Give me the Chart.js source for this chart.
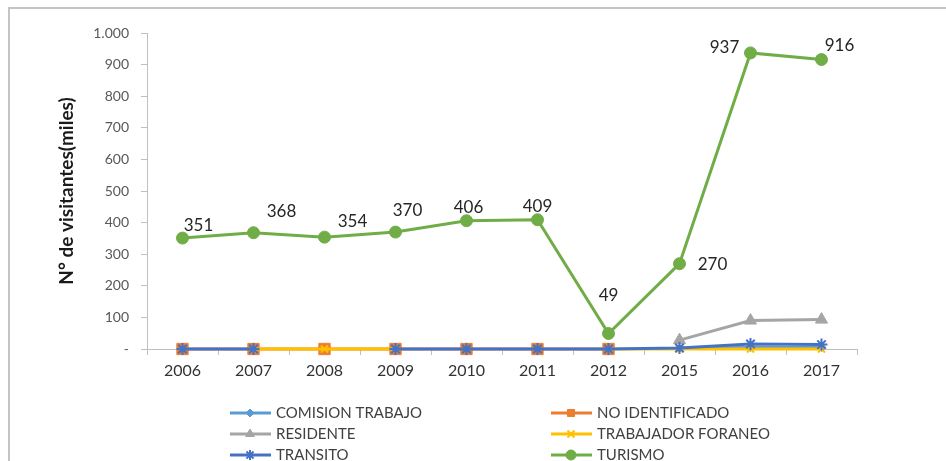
<!DOCTYPE html>
<html>
<head>
<meta charset="utf-8">
<script src="https://cdn.jsdelivr.net/npm/chart.js@4.4.1/dist/chart.umd.min.js"></script>
<style>
    html, body { margin: 0; padding: 0; background: #fff; }
    #wrap { position: relative; width: 946px; height: 461px; overflow: hidden; }
    #frame { position: absolute; left: 8px; top: 7px; right: -10px; bottom: -10px; border-left: 2px solid #c4c4c4; border-top: 2px solid #c4c4c4; }
    canvas { position: absolute; left: 0; top: 0; }
</style>
</head>
<body>
<div id="wrap">
    <div id="frame"></div>
    <canvas id="visitChart" width="946" height="461"></canvas>
</div>
<script>
// Daten
const years = ['2006', '2007', '2008', '2009', '2010', '2011', '2012', '2015', '2016', '2017'];
const comisionTrabajo   = [null, null, null, null, null, null, null, 2, 5, 5];
const noIdentificado    = [0, 0, 0, 0, 0, 0, 0, null, null, null];
const residente         = [null, null, null, null, null, null, null, 28, 90, 93];
const trabajadorForaneo = [null, 0, 0, 0, null, null, 0, 0, 0, 0];
const transito          = [0, 0, null, 0, 0, 0, 0, 3, 16, 14];
const turismo           = [351, 368, 354, 370, 406, 409, 49, 270, 937, 916];
const yTickLabels = ['-', '100', '200', '300', '400', '500', '600', '700', '800', '900', '1.000'];

const FONT = 'Lato, "Open Sans", "Liberation Sans", sans-serif';

function serie(label, data, color, style, radius, width, order) {
    return {
        label: label,
        data: data,
        borderColor: color,
        backgroundColor: color,
        borderWidth: width,
        pointStyle: style,
        pointRadius: radius,
        pointBorderWidth: style === 'star' || style === 'crossRot' ? 2 : 1,
        pointBorderColor: color,
        pointBackgroundColor: color,
        tension: 0,
        clip: false,
        order: order
    };
}

const datasets = [
    serie('COMISION TRABAJO', comisionTrabajo, '#5b9bd5', 'rectRot', 4, 3, 5),
    serie('NO IDENTIFICADO', noIdentificado, '#ed7d31', 'rect', 8, 3, 4),
    serie('RESIDENTE', residente, '#a5a5a5', 'triangle', 7, 3, 3),
    serie('TRABAJADOR FORANEO', trabajadorForaneo, '#ffc000', 'crossRot', 5, 3, 2),
    serie('TRANSITO', transito, '#4472c4', 'star', 6, 3, 1),
    serie('TURISMO', turismo, '#70ad47', 'circle', 6, 3, 0)
];

// Beschriftung der Turismo-Punkte (Versatz zum Punkt)
const labelOffsets = [[16, -13], [28, -21], [28, -16], [12, -22], [2, -13], [0, -13], [0, -38], [33, 1], [-26, -5], [18, -14]];

const turismoLabels = {
    id: 'turismoLabels',
    afterDatasetsDraw(chart) {
        const meta = chart.getDatasetMeta(5);
        const ctx = chart.ctx;
        ctx.save();
        ctx.font = '17px ' + FONT;
        ctx.fillStyle = '#262626';
        ctx.textAlign = 'center';
        ctx.textBaseline = 'middle';
        meta.data.forEach(function(pt, i) {
            ctx.fillText(String(turismo[i]), pt.x + labelOffsets[i][0], pt.y + labelOffsets[i][1]);
        });
        ctx.restore();
    }
};

// Legende in zwei Spalten
const customLegend = {
    id: 'customLegend',
    afterDraw(chart) {
        const ctx = chart.ctx;
        const cols = [230, 551];
        const rows = [413, 434, 455];
        ctx.save();
        chart.data.datasets.forEach(function(ds, i) {
            const x = cols[i % 2];
            const y = rows[Math.floor(i / 2)];
            ctx.strokeStyle = ds.borderColor;
            ctx.fillStyle = ds.borderColor;
            ctx.lineWidth = 3;
            ctx.beginPath();
            ctx.moveTo(x, y);
            ctx.lineTo(x + 41, y);
            ctx.stroke();
            ctx.lineWidth = ds.pointBorderWidth;
            Chart.helpers.drawPoint(ctx, {
                pointStyle: ds.pointStyle,
                radius: Math.min(ds.pointRadius, 5),
                rotation: 0,
                borderWidth: ds.pointBorderWidth
            }, x + 20, y);
            ctx.fillStyle = '#404040';
            ctx.font = '15px ' + FONT;
            ctx.textAlign = 'left';
            ctx.textBaseline = 'middle';
            ctx.fillText(ds.label, x + 46, y);
        });
        ctx.restore();
    }
};

const ctx = document.getElementById('visitChart');
new Chart(ctx, {
    type: 'line',
    data: {
        labels: years,
        datasets: datasets
    },
    options: {
        responsive: false,
        animation: false,
        layout: {
            padding: { left: 0, top: 33, right: 89, bottom: 82 }
        },
        plugins: {
            legend: { display: false },
            tooltip: { enabled: false }
        },
        scales: {
            x: {
                offset: true,
                afterFit: function(scale) { scale.height = 30; },
                grid: {
                    offset: true,
                    drawOnChartArea: false,
                    tickLength: 6,
                    color: '#bfbfbf'
                },
                border: { color: '#bfbfbf', width: 1 },
                ticks: {
                    color: '#333333',
                    padding: 6,
                    maxRotation: 0,
                    font: { family: FONT, size: 16 }
                }
            },
            y: {
                min: 0,
                max: 1000,
                afterFit: function(scale) { scale.width = 147; },
                grid: {
                    drawOnChartArea: false,
                    tickLength: 6,
                    color: '#bfbfbf'
                },
                border: { color: '#bfbfbf', width: 1 },
                ticks: {
                    stepSize: 100,
                    padding: 12,
                    color: '#595959',
                    font: { family: FONT, size: 14 },
                    callback: function(value) { return yTickLabels[Math.round(value / 100)]; }
                },
                title: {
                    display: true,
                    text: 'N° de visitantes(miles)',
                    color: '#1a1a1a',
                    padding: { top: 55, bottom: 0 },
                    font: { family: FONT, size: 19, weight: 'bold' }
                }
            }
        }
    },
    plugins: [turismoLabels, customLegend]
});
</script>
</body>
</html>
